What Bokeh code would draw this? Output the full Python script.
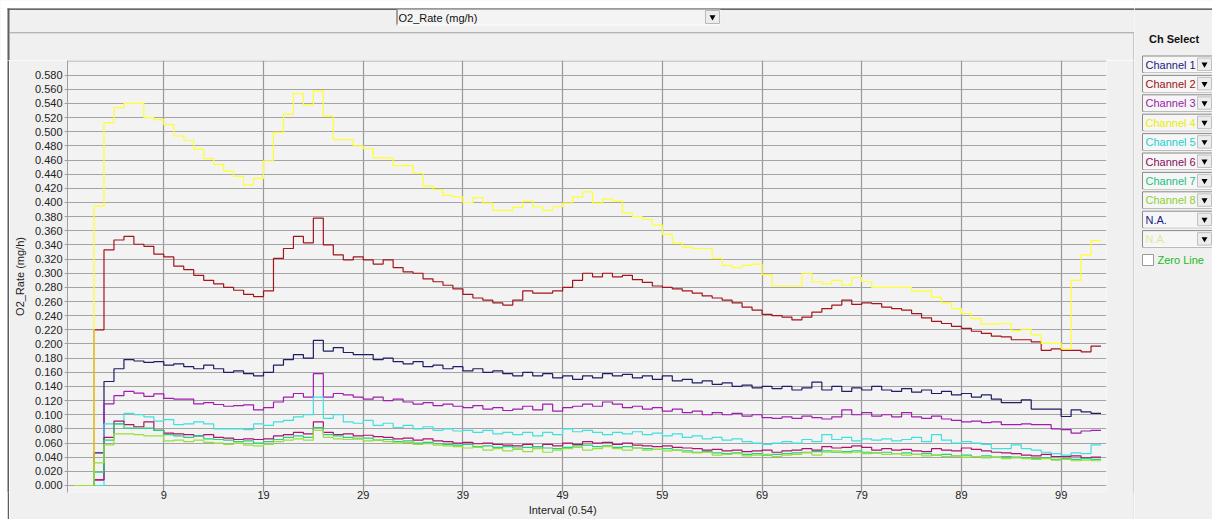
from bokeh.plotting import figure
from bokeh.layouts import column, row
from bokeh.models import (Range1d, FixedTicker, PrintfTickFormatter, ColumnDataSource, LinearAxis, Span)
from bokeh.embed import file_html
from bokeh.resources import INLINE
from bokeh.core.properties import value

FONT = "Liberation Sans"

# ---------------- data (one value per interval 0..102) ----------------
ch1 = [0, 0, 0.046, 0.147, 0.165, 0.178, 0.176, 0.174, 0.175, 0.170, 0.172, 0.168, 0.165, 0.170, 0.165, 0.160,
       0.162, 0.158, 0.155, 0.160, 0.170, 0.178, 0.185, 0.180, 0.205, 0.190, 0.195, 0.188, 0.185, 0.185, 0.178,
       0.180, 0.175, 0.172, 0.175, 0.168, 0.170, 0.165, 0.168, 0.162, 0.165, 0.160, 0.162, 0.158, 0.155, 0.160,
       0.155, 0.158, 0.152, 0.155, 0.150, 0.155, 0.152, 0.158, 0.155, 0.157, 0.152, 0.155, 0.150, 0.155, 0.148,
       0.150, 0.145, 0.148, 0.143, 0.145, 0.140, 0.142, 0.138, 0.140, 0.137, 0.140, 0.135, 0.138, 0.146, 0.135,
       0.140, 0.133, 0.138, 0.135, 0.140, 0.135, 0.133, 0.137, 0.132, 0.135, 0.130, 0.133, 0.128, 0.130, 0.125,
       0.128, 0.122, 0.117, 0.117, 0.121, 0.108, 0.108, 0.108, 0.0975, 0.107, 0.104, 0.102]
ch2 = [0, 0, 0.220, 0.333, 0.347, 0.352, 0.341, 0.338, 0.327, 0.323, 0.310, 0.305, 0.297, 0.290, 0.285, 0.280,
       0.276, 0.270, 0.267, 0.275, 0.321, 0.335, 0.352, 0.343, 0.378, 0.340, 0.326, 0.319, 0.323, 0.319, 0.313,
       0.319, 0.308, 0.302, 0.300, 0.292, 0.288, 0.283, 0.278, 0.270, 0.265, 0.262, 0.258, 0.255, 0.262, 0.275,
       0.272, 0.272, 0.275, 0.280, 0.290, 0.300, 0.295, 0.300, 0.295, 0.297, 0.291, 0.287, 0.282, 0.280, 0.278,
       0.275, 0.272, 0.268, 0.265, 0.262, 0.258, 0.252, 0.248, 0.242, 0.240, 0.238, 0.234, 0.238, 0.245, 0.250,
       0.255, 0.262, 0.256, 0.258, 0.257, 0.252, 0.250, 0.248, 0.243, 0.237, 0.232, 0.229, 0.225, 0.222, 0.218,
       0.215, 0.211, 0.210, 0.206, 0.206, 0.203, 0.191, 0.193, 0.191, 0.191, 0.189, 0.197]
ch3 = [0, 0, 0.008, 0.1155, 0.127, 0.133, 0.1305, 0.126, 0.1296, 0.123, 0.122, 0.122, 0.1155, 0.117, 0.1145, 0.112,
       0.113, 0.114, 0.107, 0.110, 0.118, 0.125, 0.130, 0.125, 0.158, 0.125, 0.130, 0.128, 0.125, 0.122, 0.125,
       0.120, 0.122, 0.118, 0.115, 0.117, 0.113, 0.115, 0.112, 0.110, 0.113, 0.108, 0.110, 0.106, 0.108, 0.112,
       0.107, 0.115, 0.105, 0.110, 0.112, 0.115, 0.112, 0.118, 0.115, 0.110, 0.112, 0.108, 0.110, 0.105, 0.108,
       0.103, 0.105, 0.100, 0.103, 0.100, 0.102, 0.098, 0.100, 0.096, 0.095, 0.097, 0.095, 0.098, 0.096, 0.094,
       0.097, 0.107, 0.100, 0.103, 0.098, 0.100, 0.097, 0.103, 0.097, 0.095, 0.098, 0.094, 0.092, 0.090, 0.091,
       0.089, 0.090, 0.086, 0.086, 0.087, 0.086, 0.086, 0.080, 0.079, 0.074, 0.077, 0.078]
ch4 = [0, 0, 0.395, 0.513, 0.534, 0.540, 0.540, 0.520, 0.517, 0.510, 0.494, 0.488, 0.475, 0.462, 0.454, 0.444,
       0.437, 0.425, 0.434, 0.459, 0.499, 0.525, 0.554, 0.538, 0.558, 0.522, 0.489, 0.489, 0.480, 0.476, 0.463,
       0.463, 0.452, 0.452, 0.441, 0.423, 0.418, 0.410, 0.408, 0.400, 0.407, 0.399, 0.389, 0.389, 0.393, 0.402,
       0.394, 0.389, 0.394, 0.399, 0.408, 0.415, 0.399, 0.405, 0.402, 0.385, 0.380, 0.376, 0.368, 0.355, 0.343,
       0.337, 0.335, 0.335, 0.321, 0.311, 0.308, 0.311, 0.313, 0.298, 0.282, 0.282, 0.282, 0.300, 0.288, 0.285,
       0.290, 0.283, 0.294, 0.288, 0.280, 0.280, 0.280, 0.280, 0.275, 0.275, 0.266, 0.258, 0.250, 0.243, 0.236,
       0.228, 0.2285, 0.229, 0.219, 0.221, 0.213, 0.201, 0.201, 0.193, 0.290, 0.326, 0.346]
ch5 = [0, 0, 0.0, 0.087, 0.087, 0.102, 0.100, 0.097, 0.091, 0.093, 0.086, 0.087, 0.090, 0.087, 0.080, 0.080,
       0.080, 0.079, 0.087, 0.085, 0.090, 0.092, 0.097, 0.100, 0.125, 0.095, 0.100, 0.090, 0.088, 0.092, 0.085,
       0.088, 0.082, 0.085, 0.080, 0.083, 0.078, 0.080, 0.077, 0.078, 0.075, 0.078, 0.073, 0.075, 0.072, 0.075,
       0.070, 0.075, 0.072, 0.080, 0.076, 0.078, 0.075, 0.072, 0.075, 0.073, 0.076, 0.072, 0.074, 0.070, 0.073,
       0.068, 0.070, 0.066, 0.068, 0.064, 0.066, 0.062, 0.060, 0.058, 0.060, 0.062, 0.060, 0.065, 0.062, 0.072,
       0.065, 0.068, 0.063, 0.066, 0.064, 0.066, 0.063, 0.065, 0.068, 0.062, 0.072, 0.064, 0.060, 0.062, 0.060,
       0.058, 0.052, 0.052, 0.0575, 0.052, 0.050, 0.047, 0.045, 0.043, 0.046, 0.045, 0.0575]
ch6 = [0, 0, 0.008, 0.068, 0.091, 0.086, 0.083, 0.090, 0.078, 0.074, 0.073, 0.072, 0.070, 0.072, 0.068, 0.067,
       0.065, 0.066, 0.065, 0.066, 0.070, 0.072, 0.075, 0.073, 0.090, 0.075, 0.072, 0.073, 0.070, 0.071, 0.069,
       0.068, 0.066, 0.067, 0.064, 0.066, 0.063, 0.062, 0.060, 0.061, 0.059, 0.060, 0.058, 0.057, 0.056, 0.058,
       0.055, 0.058, 0.056, 0.060, 0.058, 0.062, 0.060, 0.061, 0.058, 0.060, 0.057, 0.056, 0.055, 0.056, 0.054,
       0.053, 0.052, 0.050, 0.051, 0.049, 0.050, 0.048, 0.049, 0.050, 0.047, 0.049, 0.050, 0.052, 0.050, 0.055,
       0.053, 0.054, 0.056, 0.054, 0.050, 0.052, 0.050, 0.051, 0.049, 0.048, 0.052, 0.050, 0.049, 0.053, 0.051,
       0.049, 0.047, 0.046, 0.045, 0.043, 0.042, 0.044, 0.041, 0.041, 0.042, 0.039, 0.040]
ch7 = [0, 0, 0.019, 0.064, 0.087, 0.081, 0.081, 0.081, 0.078, 0.072, 0.070, 0.068, 0.070, 0.066, 0.065, 0.064,
       0.062, 0.063, 0.060, 0.062, 0.065, 0.068, 0.070, 0.068, 0.082, 0.072, 0.070, 0.068, 0.066, 0.067, 0.064,
       0.065, 0.062, 0.063, 0.060, 0.061, 0.059, 0.058, 0.057, 0.058, 0.055, 0.056, 0.054, 0.055, 0.053, 0.054,
       0.055, 0.053, 0.052, 0.054, 0.056, 0.057, 0.055, 0.056, 0.054, 0.055, 0.053, 0.052, 0.051, 0.052, 0.050,
       0.049, 0.047, 0.048, 0.046, 0.045, 0.046, 0.044, 0.045, 0.043, 0.044, 0.045, 0.046, 0.047, 0.048, 0.049,
       0.047, 0.048, 0.049, 0.047, 0.046, 0.047, 0.045, 0.046, 0.044, 0.045, 0.043, 0.044, 0.042, 0.043, 0.041,
       0.042, 0.040, 0.041, 0.040, 0.039, 0.038, 0.039, 0.037, 0.038, 0.037, 0.038, 0.037]
ch8 = [0, 0, 0.032, 0.0575, 0.073, 0.073, 0.072, 0.070, 0.070, 0.063, 0.064, 0.062, 0.064, 0.061, 0.060, 0.058,
       0.060, 0.057, 0.056, 0.058, 0.062, 0.064, 0.066, 0.064, 0.078, 0.068, 0.066, 0.065, 0.067, 0.063, 0.064,
       0.062, 0.060, 0.061, 0.058, 0.059, 0.057, 0.056, 0.055, 0.053, 0.054, 0.050, 0.052, 0.049, 0.051, 0.048,
       0.052, 0.047, 0.050, 0.052, 0.054, 0.050, 0.052, 0.055, 0.052, 0.050, 0.053, 0.050, 0.051, 0.049, 0.050,
       0.047, 0.046, 0.047, 0.043, 0.044, 0.045, 0.042, 0.043, 0.044, 0.041, 0.043, 0.044, 0.046, 0.043, 0.047,
       0.049, 0.046, 0.047, 0.045, 0.046, 0.044, 0.045, 0.043, 0.044, 0.042, 0.043, 0.041, 0.042, 0.040, 0.041,
       0.039, 0.040, 0.038, 0.039, 0.038, 0.037, 0.038, 0.036, 0.037, 0.035, 0.036, 0.035]

series = [ch1, ch2, ch3, ch4, ch5, ch6, ch7, ch8]
line_colors = ["#1e1e64", "#a3161e", "#a21caf", "#ffff2a", "#3fe0e0", "#b0126e", "#26d27a", "#9ae03c"]

x_ticks = [9, 19, 29, 39, 49, 59, 69, 79, 89, 99]
y_ticks = [i / 50 for i in range(30)]
x_title = "Interval (0.54)"
y_title = "O2_Rate (mg/h)"

menu_names = ["Channel 1", "Channel 2", "Channel 3", "Channel 4", "Channel 5", "Channel 6",
              "Channel 7", "Channel 8", "N.A.", "N.A."]
menu_colors = ["#1a1a80", "#a01010", "#9a1aaa", "#ecec00", "#20d0d0", "#8a0a5a",
               "#20c080", "#90d030", "#20208a", "#e6e69a"]
selector_text = "O2_Rate (mg/h)"

BG = "#f0f0f0"


def blank(width, height, color, **kw):
    f = figure(width=width, height=height, output_backend="svg", toolbar_location=None,
               x_axis_type=None, y_axis_type=None, background_fill_color=color,
               border_fill_color=color, outline_line_color=None, **kw)
    f.xgrid.visible = False
    f.ygrid.visible = False
    return f


# ---------------- main chart (frame: page x 67..1106, y 60..492) ----------------
p = figure(width=1124, height=459, x_range=Range1d(-0.66, 103.55), y_range=Range1d(-0.0099, 0.6007),
           output_backend="svg", toolbar_location=None,
           min_border_left=58, min_border_right=27, min_border_top=0, min_border_bottom=27,
           background_fill_color="#f3f3f3", border_fill_color=BG, outline_line_color=None)

p.add_layout(Span(location=0.6000, dimension="width", line_color="#a0a0a0", line_width=1))

p.xaxis.ticker = FixedTicker(ticks=x_ticks)
p.xaxis.axis_line_color = None
p.xaxis.major_tick_line_color = None
p.xaxis.minor_tick_line_color = None
p.xaxis.major_tick_out = 0
p.xaxis.major_label_standoff = -2
p.xaxis.major_label_text_font = FONT
p.xaxis.major_label_text_font_size = "11px"
p.xaxis.major_label_text_color = "#222222"

ax2 = LinearAxis(ticker=FixedTicker(ticks=[49]), major_label_overrides={49: x_title},
                 axis_line_color=None, major_tick_line_color=None, minor_tick_line_color=None,
                 major_tick_out=0, major_label_standoff=2, major_label_text_font=FONT,
                 major_label_text_font_size="11px", major_label_text_color="#222222")
p.add_layout(ax2, "below")

p.yaxis.ticker = FixedTicker(ticks=y_ticks)
p.yaxis.formatter = PrintfTickFormatter(format="%.3f")
p.yaxis.axis_line_color = "#a0a0a0"
p.yaxis.major_tick_line_color = "#a0a0a0"
p.yaxis.major_tick_out = 3
p.yaxis.major_tick_in = 0
p.yaxis.minor_tick_line_color = None
p.yaxis.major_label_standoff = 2
p.yaxis.major_label_text_font = FONT
p.yaxis.major_label_text_font_size = "11px"
p.yaxis.major_label_text_color = "#222222"
p.yaxis.axis_label = y_title
p.yaxis.axis_label_text_font = FONT
p.yaxis.axis_label_text_font_size = "11px"
p.yaxis.axis_label_text_font_style = "normal"
p.yaxis.axis_label_text_color = "#222222"
p.yaxis.axis_label_standoff = 6

p.xgrid.grid_line_color = "#999999"
p.xgrid.grid_line_width = 1.2
p.ygrid.grid_line_color = "#a4a4a4"
p.ygrid.grid_line_width = 1

xs = list(range(104))
for vals, col in zip(series, line_colors):
    p.step(xs, vals + [vals[-1]], mode="after", line_color=col, line_width=1.2)

# ---------------- window border strips ----------------
white_strip = blank(7, 459, "#ffffff", min_border=0)
dark_strip = blank(2, 459, "#5e5e5e", min_border=0)
divider = blank(1, 459, "#a0a0a0", min_border=0)

# ---------------- top selector bar (page pixel coordinates) ----------------
top = blank(1134, 60, BG, min_border=0, x_range=Range1d(0, 1134), y_range=Range1d(60, 0))
top.quad(left=[0, 0], right=[1134, 7], top=[0, 8], bottom=[8, 60], fill_color="#ffffff", line_color=None)
top.quad(left=[7], right=[1134], top=[8], bottom=[9.3], fill_color="#3a3a3a", line_color=None)
top.quad(left=[7], right=[9], top=[8], bottom=[60], fill_color="#5e5e5e", line_color=None)
top.quad(left=[9], right=[1134], top=[31.8], bottom=[32.8], fill_color="#a0a0a0", line_color=None)
top.quad(left=[1133], right=[1134], top=[32], bottom=[60], fill_color="#a0a0a0", line_color=None)
top.quad(left=[396], right=[720], top=[9], bottom=[25], fill_color="#f4f4f4", line_color=None)
top.segment(x0=[396.5], y0=[9], x1=[396.5], y1=[25], line_color="#505050", line_width=1)
top.segment(x0=[396], y0=[24.5], x1=[720], y1=[24.5], line_color="#ffffff", line_width=1)
top.quad(left=[705], right=[719], top=[10], bottom=[23], fill_color="#ececec", line_color="#b8b8b8")
top.scatter(x=[712], y=[16.5], marker="inverted_triangle", size=6, fill_color="#000000", line_color=None)
top.text(x=[398], y=[17], text=[selector_text], text_font=value(FONT), text_font_size="11px",
         text_baseline="middle", text_align="left", text_color="#111111")

# ---------------- side panel (page pixel coordinates) ----------------
side = blank(78, 519, BG, min_border=0, x_range=Range1d(1134, 1212), y_range=Range1d(519, 0))
side.quad(left=[1134], right=[1212], top=[0], bottom=[8], fill_color="#ffffff", line_color=None)
side.quad(left=[1134], right=[1212], top=[8], bottom=[9.3], fill_color="#3a3a3a", line_color=None)
side.text(x=[1173.5], y=[38.5], text=["Ch Select"], text_font=value(FONT), text_font_size="11px",
          text_font_style="bold", text_align="center", text_baseline="middle", text_color="#111111")
n = len(menu_names)
tops = [55.5 + 19.4 * i for i in range(n)]
side.quad(left=[1142] * n, right=[1213] * n, top=tops, bottom=[t + 16.5 for t in tops],
          fill_color="#f6f6f6", line_color="#8a8a8a", line_width=1)
side.segment(x0=[1143] * n, y0=[t + 16 for t in tops], x1=[1212] * n, y1=[t + 16 for t in tops],
             line_color="#ffffff", line_width=1)
side.quad(left=[1197] * n, right=[1211] * n, top=[t + 2 for t in tops], bottom=[t + 14.5 for t in tops],
          fill_color="#ececec", line_color="#c0c0c0", line_width=1)
side.scatter(x=[1204] * n, y=[t + 8.3 for t in tops], marker="inverted_triangle", size=6,
             fill_color="#000000", line_color=None)
src = ColumnDataSource(dict(x=[1145] * n, y=[t + 8.6 for t in tops], t=menu_names, c=menu_colors))
side.text(x="x", y="y", text="t", text_color="c", source=src, text_font=value(FONT),
          text_font_size="11px", text_baseline="middle", text_align="left")
side.quad(left=[1142], right=[1153], top=[254], bottom=[265], fill_color="#ffffff", line_color="#9a9a9a")
side.text(x=[1157], y=[259.5], text=["Zero Line"], text_font=value(FONT), text_font_size="11px",
          text_baseline="middle", text_align="left", text_color="#22bb22")

left_part = column(top, row(white_strip, dark_strip, p, divider, spacing=0), spacing=0)
layout = row(left_part, side, spacing=0)

open("out.html", "w").write(file_html(layout, INLINE))
